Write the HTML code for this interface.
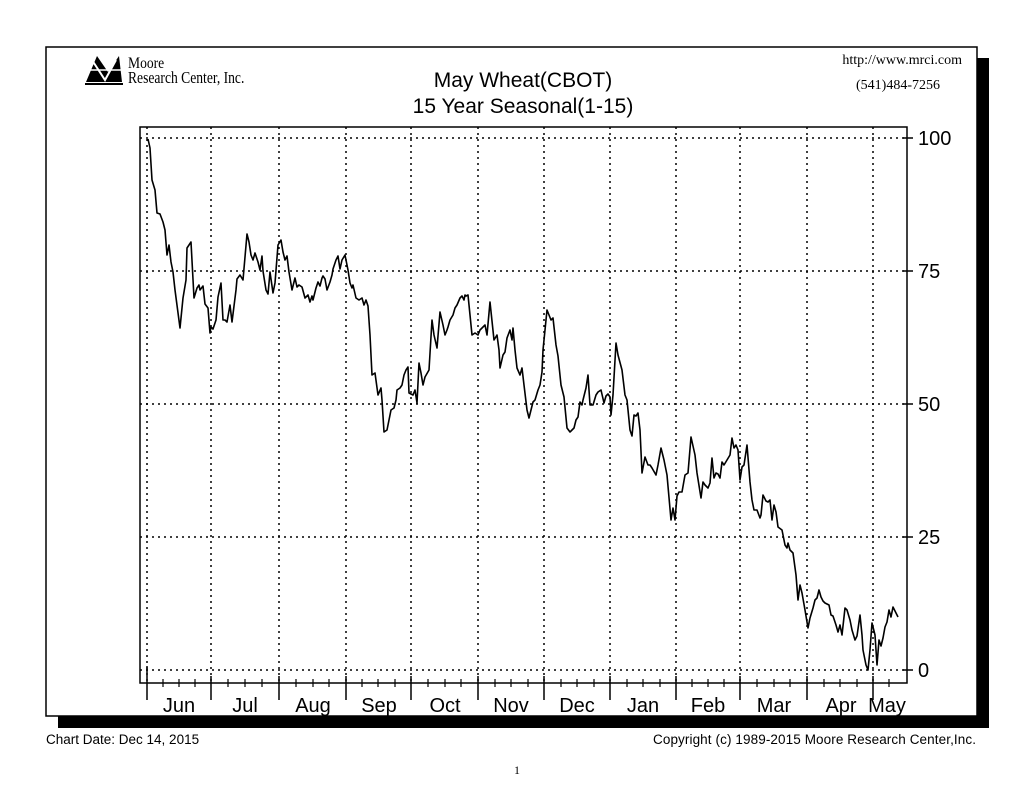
<!DOCTYPE html>
<html><head><meta charset="utf-8"><style>
body{margin:0;background:#fff;width:1035px;height:800px;overflow:hidden}
svg{display:block}
text{font-family:"Liberation Sans",sans-serif}
.s{font-family:"Liberation Serif",serif}
</style></head><body>
<svg width="1035" height="800" viewBox="0 0 1035 800" xmlns="http://www.w3.org/2000/svg">
<rect x="58" y="58" width="931" height="670" fill="#000"/>
<rect x="46" y="47" width="931" height="669" fill="#fff" stroke="#000" stroke-width="1.5"/>
<!-- logo -->
<polygon points="86,82 97,56 108,72 119,56 122,82" fill="#000"/>
<polyline points="92,60 105,80 116,60" fill="none" stroke="#fff" stroke-width="2"/>
<line x1="86" y1="70" x2="122" y2="70" stroke="#fff" stroke-width="1.5"/>
<rect x="85" y="83" width="38" height="2" fill="#000"/>
<text class="s" x="128" y="68" font-size="16" transform="translate(128 0) scale(0.85 1) translate(-128 0)">Moore</text>
<text class="s" x="128" y="83" font-size="17" transform="translate(128 0) scale(0.8 1) translate(-128 0)">Research Center, Inc.</text>
<text x="523" y="87" font-size="21" text-anchor="middle">May Wheat(CBOT)</text>
<text x="523" y="113" font-size="21" text-anchor="middle">15 Year Seasonal(1-15)</text>
<text class="s" x="962" y="64" font-size="14" text-anchor="end">http://www.mrci.com</text>
<text class="s" x="940" y="89" font-size="14" text-anchor="end">(541)484-7256</text>
<!-- grid -->
<g stroke="#000" stroke-width="1.5" stroke-dasharray="2,4">
<line x1="140" y1="138" x2="907" y2="138"/><line x1="140" y1="271" x2="907" y2="271"/><line x1="140" y1="404" x2="907" y2="404"/><line x1="140" y1="537" x2="907" y2="537"/><line x1="140" y1="670" x2="907" y2="670"/>
<line x1="147" y1="127" x2="147" y2="683"/><line x1="211" y1="127" x2="211" y2="683"/><line x1="279" y1="127" x2="279" y2="683"/><line x1="346" y1="127" x2="346" y2="683"/><line x1="411" y1="127" x2="411" y2="683"/><line x1="478" y1="127" x2="478" y2="683"/><line x1="544" y1="127" x2="544" y2="683"/><line x1="610" y1="127" x2="610" y2="683"/><line x1="676" y1="127" x2="676" y2="683"/><line x1="740" y1="127" x2="740" y2="683"/><line x1="807" y1="127" x2="807" y2="683"/><line x1="873" y1="127" x2="873" y2="683"/>
</g>
<rect x="140" y="127" width="767" height="556" fill="none" stroke="#000" stroke-width="1.5"/>
<g stroke="#000" stroke-width="1.5">
<line x1="903" y1="138" x2="913" y2="138"/><line x1="903" y1="271" x2="913" y2="271"/><line x1="903" y1="404" x2="913" y2="404"/><line x1="903" y1="537" x2="913" y2="537"/><line x1="903" y1="670" x2="913" y2="670"/>
<line x1="147" y1="666" x2="147" y2="700"/><line x1="211" y1="676" x2="211" y2="700"/><line x1="279" y1="676" x2="279" y2="700"/><line x1="346" y1="676" x2="346" y2="700"/><line x1="411" y1="676" x2="411" y2="700"/><line x1="478" y1="676" x2="478" y2="700"/><line x1="544" y1="676" x2="544" y2="700"/><line x1="610" y1="676" x2="610" y2="700"/><line x1="676" y1="676" x2="676" y2="700"/><line x1="740" y1="676" x2="740" y2="700"/><line x1="807" y1="676" x2="807" y2="700"/><line x1="873" y1="676" x2="873" y2="700"/>
</g>
<g stroke="#000" stroke-width="1.2">
<path d="M163 679v8M179 679v8M195 679v8M228 679v8M245 679v8M262 679v8M296 679v8M313 679v8M329 679v8M362 679v8M378 679v8M395 679v8M428 679v8M445 679v8M461 679v8M495 679v8M511 679v8M528 679v8M561 679v8M577 679v8M594 679v8M627 679v8M643 679v8M660 679v8M692 679v8M708 679v8M724 679v8M757 679v8M774 679v8M790 679v8M824 679v8M840 679v8M857 679v8M889 679v8"/>
</g>
<g font-size="20">
<text x="918" y="145">100</text><text x="918" y="278">75</text><text x="918" y="411">50</text><text x="918" y="544">25</text><text x="918" y="677">0</text>
<text x="179" y="712" text-anchor="middle">Jun</text><text x="245" y="712" text-anchor="middle">Jul</text><text x="313" y="712" text-anchor="middle">Aug</text><text x="379" y="712" text-anchor="middle">Sep</text><text x="445" y="712" text-anchor="middle">Oct</text><text x="511" y="712" text-anchor="middle">Nov</text><text x="577" y="712" text-anchor="middle">Dec</text><text x="643" y="712" text-anchor="middle">Jan</text><text x="708" y="712" text-anchor="middle">Feb</text><text x="774" y="712" text-anchor="middle">Mar</text><text x="841" y="712" text-anchor="middle">Apr</text><text x="887" y="712" text-anchor="middle">May</text>
</g>
<polyline fill="none" stroke="#000" stroke-width="1.6" stroke-linejoin="round" points="148,139 150,148 152,180 155,190 157,213 160,214 163,222 165,230 167,255 169,245 171,262 173,272 175,290 180,328 183,298 186,280 187,248 191,242 194,298 197,288 199,285 200,290 203,286 205,304 208,308 210,333 211,327 213,329 216,320 218,297 221,283 223,320 225,320 227,322 230,305 232,322 236,290 237,279 240,275 243,280 247,234 249,242 251,255 253,260 255,253 258,262 260,270 262,256 263,271 266,290 268,294 270,272 273,293 275,283 278,245 281,240 283,252 285,260 287,256 289,272 292,290 295,278 297,287 299,285 302,287 305,298 308,295 310,302 312,296 313,300 316,288 318,282 320,286 322,278 323,276 325,279 327,290 330,282 332,275 333,269 336,260 338,256 340,269 342,260 345,255 348,270 350,283 352,288 353,285 356,298 359,300 362,298 364,305 366,300 368,306 370,335 372,375 375,373 378,395 381,388 382,400 384,432 387,430 389,420 391,410 394,408 396,400 397,390 400,388 402,385 404,375 406,370 408,367 409,393 413,395 415,390 417,403 419,363 421,373 423,385 425,377 429,370 432,320 434,335 437,348 440,312 443,325 445,335 447,330 448,327 450,320 453,315 455,308 457,305 460,298 462,296 464,300 465,295 466,296 468,295 472,335 475,333 478,335 480,330 482,328 485,325 487,335 490,302 494,340 497,335 499,350 500,368 503,355 505,352 507,338 510,330 512,340 513,328 515,350 517,368 520,375 522,368 524,385 527,410 529,418 531,410 533,402 535,400 538,390 540,385 542,372 543,350 545,330 547,310 549,315 551,320 553,318 556,345 558,356 561,385 564,397 567,428 570,432 572,430 574,428 576,420 578,417 580,402 582,405 583,400 586,388 588,375 590,405 593,405 596,395 598,392 601,390 604,403 606,396 608,394 610,397 611,415 613,395 616,343 618,355 622,370 625,395 627,400 630,430 632,436 634,415 636,416 638,413 640,430 642,473 645,457 648,465 650,465 652,468 656,475 658,465 661,448 664,460 667,475 671,520 673,508 675,520 677,496 679,492 682,492 685,475 688,473 691,437 695,455 697,473 701,498 703,482 705,485 708,488 710,483 712,458 714,478 716,473 718,474 720,478 722,462 724,465 727,460 730,455 732,438 734,448 736,445 738,450 740,480 742,467 744,465 747,445 750,482 752,500 754,510 757,510 760,518 761,515 763,495 766,501 768,502 770,500 772,520 774,505 776,512 778,527 782,530 785,545 787,548 788,543 790,550 793,553 796,575 798,600 800,585 802,593 805,610 808,628 810,618 813,608 815,600 817,598 819,590 821,597 823,601 825,603 829,605 831,615 833,616 836,625 838,632 840,625 842,635 845,608 847,610 850,620 852,630 855,640 857,636 860,615 862,635 863,650 866,665 868,670 870,650 872,623 875,635 877,665 879,640 881,646 883,638 885,627 887,622 889,610 891,617 893,607 896,613 898,617"/>
<text x="46" y="744" font-size="13.5">Chart Date: Dec 14, 2015</text>
<text x="976" y="744" font-size="13.5" text-anchor="end" textLength="323">Copyright (c) 1989-2015 Moore Research Center,Inc.</text>
<text class="s" x="517" y="774" font-size="12" text-anchor="middle">1</text>
</svg>
</body></html>
